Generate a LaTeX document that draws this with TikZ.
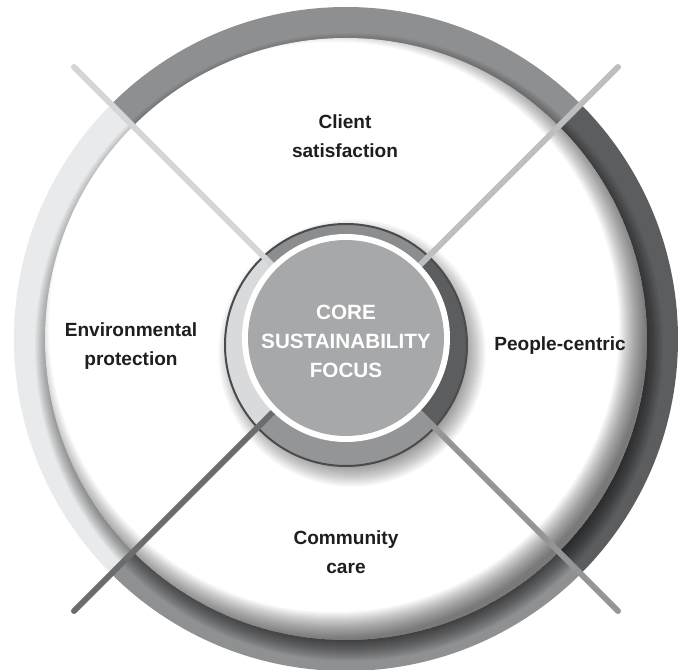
\documentclass[tikz,border=0pt]{standalone}
\usepackage{fontspec}
\setmainfont{Liberation Sans}
\usetikzlibrary{calc}
\definecolor{ringTopIn}{HTML}{8E8F91}
\definecolor{ringTopOut}{HTML}{ACADAF}
\definecolor{ringLeftIn}{HTML}{E9EAEB}
\definecolor{ringLeftOut}{HTML}{D3D4D6}
\definecolor{ringRightIn}{HTML}{5C5D5F}
\definecolor{ringRightMid}{HTML}{626365}
\definecolor{ringRightOut}{HTML}{4C4D4F}
\definecolor{ringBotIn}{HTML}{8F9092}
\definecolor{ringBotMid}{HTML}{A6A7A9}
\definecolor{ringBotOut}{HTML}{8A8B8D}
\definecolor{bandTop}{HTML}{8C8D8F}
\definecolor{bandRight}{HTML}{5C5D5F}
\definecolor{bandBot}{HTML}{949597}
\definecolor{bandLeft}{HTML}{D9DADC}
\definecolor{bandEdge}{HTML}{4A4B4D}
\definecolor{coreGray}{HTML}{A7A8AA}
\definecolor{lineNW}{HTML}{D4D5D7}
\definecolor{lineNE}{HTML}{BDBEC0}
\definecolor{lineSE}{HTML}{949597}
\definecolor{lineSW}{HTML}{6B6C6E}
\definecolor{labelInk}{HTML}{1E1E1E}
\pgfdeclareradialshading{ringtop}{\pgfpointorigin}{color(0bp)=(ringTopIn); color(45.3bp)=(ringTopIn); color(50bp)=(ringTopOut)}
\pgfdeclareradialshading{ringleft}{\pgfpointorigin}{color(0bp)=(ringLeftIn); color(45.3bp)=(ringLeftIn); color(50bp)=(ringLeftOut)}
\pgfdeclareradialshading{ringright}{\pgfpointorigin}{color(0bp)=(ringRightIn); color(45.3bp)=(ringRightIn); color(47.8bp)=(ringRightMid); color(50bp)=(ringRightOut)}
\pgfdeclareradialshading{ringbot}{\pgfpointorigin}{color(0bp)=(ringBotIn); color(45.3bp)=(ringBotIn); color(48bp)=(ringBotMid); color(50bp)=(ringBotOut)}
\tikzset{
  spoke/.style={line width=4.5pt, line cap=round},
  label/.style={font=\fontsize{14.3}{22}\selectfont\bfseries, text=labelInk, align=center, inner sep=0pt},
  coretext/.style={font=\fontsize{15.5}{21.7}\selectfont\bfseries, text=white, align=center, inner sep=0pt}
}
\begin{document}
\begin{tikzpicture}[x=0.75pt,y=0.75pt]
\useasboundingbox (0,0) rectangle (679,-670);
\coordinate (C) at (346,-339);
\coordinate (B) at (346,-345);
\coordinate (K) at (346,-338);
\coordinate (nw) at (74,-67);
\coordinate (ne) at (618,-67);
\coordinate (se) at (618,-611);
\coordinate (sw) at (74,-611);
% outer ring quadrants
\begin{scope}
  \clip (C) circle[radius=332];
  \begin{scope}\clip (C) -- ++(600,600) -- ++(-1200,0) -- cycle;
    \shade[shading=ringtop] (C) circle[radius=332];\end{scope}
  \begin{scope}\clip (C) -- ++(600,600) -- ++(0,-1200) -- cycle;
    \shade[shading=ringright] (C) circle[radius=332];\end{scope}
  \begin{scope}\clip (C) -- ++(600,-600) -- ++(-1200,0) -- cycle;
    \shade[shading=ringbot] (C) circle[radius=332];\end{scope}
  \begin{scope}\clip (C) -- ++(-600,600) -- ++(0,-1200) -- cycle;
    \shade[shading=ringleft] (C) circle[radius=332];\end{scope}
  % shadow of the inner disk on the ring
  \foreach \r in {290,...,314}
    \fill[black, fill opacity=0.03] ($(C)+(3,-8)$) circle[radius=\r];
\end{scope}
% inner white disk with soft inner shading
\fill[white] (C) circle[radius=301];
\begin{scope}
  \clip (C) circle[radius=301];
  \foreach \r in {285,...,312}
    \fill[black, fill opacity=0.022, even odd rule] (C) circle[radius=340] ($(C)+(-12,12)$) circle[radius=\r];
\end{scope}
% drop shadow of the central band
\foreach \r in {108,...,134}
  \fill[black, fill opacity=0.02] ($(B)+(6,-8)$) circle[radius=\r];
% central band quadrants
\begin{scope}
  \clip (B) circle[radius=121];
  \fill[bandTop] (C) -- ++(300,300) -- ++(-600,0) -- cycle;
  \fill[bandRight] (C) -- ++(300,300) -- ++(0,-600) -- cycle;
  \fill[bandBot] (C) -- ++(300,-300) -- ++(-600,0) -- cycle;
  \fill[bandLeft] (C) -- ++(-300,300) -- ++(0,-600) -- cycle;
\end{scope}
\draw[bandEdge, line width=1.5pt] (B) circle[radius=121];
% spokes
\draw[spoke, lineNW] (C) -- (nw);
\draw[spoke, lineNE] (C) -- (ne);
\draw[spoke, lineSE] (C) -- (se);
\draw[spoke, lineSW] (C) -- (sw);
% core
\fill[white] (K) circle[radius=104];
\fill[coreGray] (K) circle[radius=98];
\node[coretext] (core) at (346,-341) {CORE\\SUSTAINABILITY\\FOCUS};
% labels
\node[label] (client) at (345,-136) {Client\\satisfaction};
\node[label] (env) at (131,-346) {Environmental\\protection};
\node[label] (people) at (560,-346) {People-centric};
\node[label] (community) at (346,-552) {Community\\care};
\end{tikzpicture}
\end{document}
